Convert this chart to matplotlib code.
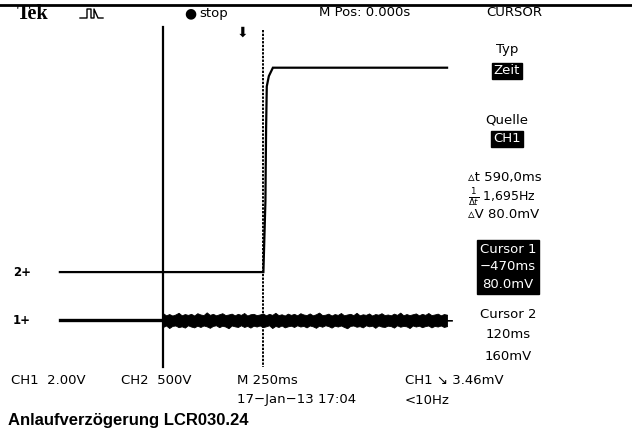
import numpy as np
import matplotlib
matplotlib.use("Agg")
import matplotlib.pyplot as plt

# scope settings
MS_PER_DIV = 250.0      # M 250ms
CH1_V_PER_DIV = 2.0     # CH1 2.00V
CH2_V_PER_DIV = 0.5     # CH2 500mV
CH1_GND_DIV = -3.17     # ground marker "1"
CH2_GND_DIV = -2.03     # ground marker "2"
CURSOR1_MS = -470.0
CURSOR2_MS = 120.0

# CH2: control signal, steps up shortly after cursor 2
ch2_t = [-1078, 122, 134, 138, 142, 154, 178, 1205]
ch2_v = [0.0, 0.0, 0.84, 1.70, 2.19, 2.31, 2.41, 2.41]

# CH1: flat before cursor 1, noise band afterwards (envelope)
ch1_flat_t = [-1078, -475]
ch1_flat_v = [0.0, 0.0]
ch1_noise_t = np.linspace(-470, 1205, 92)
ch1_upper = [0.34, 0.24, 0.30, 0.23, 0.28, 0.36, 0.24, 0.30, 0.26, 0.31, 0.23, 0.34,
             0.28, 0.25, 0.38, 0.26, 0.31, 0.24, 0.29, 0.34, 0.25, 0.28, 0.32, 0.24,
             0.31, 0.26, 0.35, 0.23, 0.29, 0.31, 0.25, 0.28, 0.33, 0.24, 0.31, 0.26,
             0.36, 0.25, 0.29, 0.23, 0.32, 0.26, 0.31, 0.24, 0.34, 0.28,
             0.25, 0.33, 0.24, 0.29, 0.37, 0.25, 0.27, 0.32, 0.23, 0.30, 0.26, 0.35,
             0.24, 0.28, 0.31, 0.25, 0.36, 0.24, 0.29, 0.26, 0.33, 0.23, 0.30, 0.27,
             0.34, 0.25, 0.28, 0.24, 0.32, 0.26, 0.37, 0.24, 0.30, 0.25, 0.29, 0.33,
             0.24, 0.31, 0.26, 0.35, 0.25, 0.28, 0.32, 0.24, 0.30, 0.27]
ch1_lower = [-0.31, -0.24, -0.36, -0.26, -0.24, -0.32, -0.28, -0.34, -0.23, -0.29,
             -0.33, -0.25, -0.31, -0.24, -0.28, -0.35, -0.26, -0.23, -0.32, -0.25,
             -0.29, -0.37, -0.24, -0.28, -0.31, -0.23, -0.31, -0.26, -0.34, -0.25,
             -0.29, -0.24, -0.32, -0.28, -0.23, -0.36, -0.26, -0.31, -0.24, -0.33,
             -0.28, -0.25, -0.31, -0.23, -0.29, -0.26,
             -0.33, -0.24, -0.28, -0.35, -0.25, -0.30, -0.23, -0.27, -0.34, -0.25,
             -0.29, -0.24, -0.31, -0.37, -0.26, -0.24, -0.30, -0.27, -0.33, -0.23,
             -0.28, -0.25, -0.35, -0.24, -0.29, -0.31, -0.25, -0.27, -0.34, -0.23,
             -0.30, -0.26, -0.28, -0.36, -0.24, -0.29, -0.25, -0.32, -0.27, -0.24,
             -0.33, -0.26, -0.29, -0.24, -0.31, -0.27]

W, H = 632, 443
PX_PER_DIV = 42.4
TRIG_X = 242.7          # trigger point (t = 0) in pixels
CENTER_Y = 186.0        # vertical screen centre in pixels

fig = plt.figure(figsize=(W / 100, H / 100), dpi=100)
ax = fig.add_axes([0, 0, 1, 1])
ax.set_xlim(-TRIG_X / PX_PER_DIV * MS_PER_DIV, (W - TRIG_X) / PX_PER_DIV * MS_PER_DIV)
ax.set_ylim((CENTER_Y - H) / PX_PER_DIV, CENTER_Y / PX_PER_DIV)
ax.axis("off")


def ch1_div(v):
    return CH1_GND_DIV + np.asarray(v) / CH1_V_PER_DIV


def ch2_div(v):
    return CH2_GND_DIV + np.asarray(v) / CH2_V_PER_DIV


# traces
ax.plot(ch2_t, ch2_div(ch2_v), color="black", lw=1.6, solid_joinstyle="miter")
ax.plot(ch1_flat_t, ch1_div(ch1_flat_v), color="black", lw=2.4)
ax.fill_between(ch1_noise_t, ch1_div(ch1_lower), ch1_div(ch1_upper),
                color="black", lw=0.6, edgecolor="black")

# cursors
ax.plot([CURSOR1_MS, CURSOR1_MS], [3.75, -4.27], color="black", lw=1.6)
ax.plot([CURSOR2_MS, CURSOR2_MS], [3.68, -4.27], color="black", lw=1.4,
        linestyle=(0, (1.2, 0.7)))

# top border line
fig.add_artist(plt.Line2D([0, 1], [1 - 5 / H, 1 - 5 / H], color="black", lw=2.0))

scope_font = ["DejaVu Sans"]


def ptext(x, y, s, ha="left", size=9.5, **kw):
    kw.setdefault("family", scope_font)
    return fig.text(x / W, 1 - y / H, s, ha=ha, va="center", fontsize=size, **kw)


def boxed(x, y, s, size=9.5):
    ptext(x, y, s, ha="center", size=size, color="white",
          bbox=dict(boxstyle="square,pad=0.15", fc="black", ec="black"))


# header
ptext(17, 14, "Tek", size=14.5, family="Liberation Serif", weight="bold")
icon_x = np.array([80, 85, 87, 87, 91, 91, 94, 94, 98, 103]) / W
icon_y = 1 - np.array([18, 18, 18, 9, 9, 18, 18, 9, 18, 18]) / H
fig.add_artist(plt.Line2D(icon_x, icon_y, color="black", lw=1.0))
ptext(190, 13, "●", ha="center", size=10)
ptext(199, 13, "stop")
ptext(319, 13, "M Pos: 0.000s")
ptext(486, 13, "CURSOR")

# trigger markers
ptext(242, 33, "⬇", ha="center", size=10)
ptext(447, 321, "←", ha="center", size=10, weight="bold")
ptext(13, 272, "2+", size=8.5, weight="bold")
ptext(13, 321, "1+", size=8.5, weight="bold")

# cursor menu
ptext(507, 50, "Typ", ha="center")
boxed(507, 71, "Zeit")
ptext(507, 120, "Quelle", ha="center")
boxed(507, 139, "CH1")
ptext(468, 178, "▵t 590,0ms")
ptext(468, 197, "$\\frac{1}{\\Delta t}$ 1,695Hz", size=9)
ptext(468, 215, "▵V 80.0mV")
fig.text(508 / W, 1 - 267 / H, "Cursor 1\n−470ms\n80.0mV", ha="center", va="center",
         fontsize=9.5, family=scope_font, color="white", linespacing=1.45,
         bbox=dict(boxstyle="square,pad=0.2", fc="black", ec="black"))
ptext(508, 314, "Cursor 2", ha="center")
ptext(508, 335, "120ms", ha="center")
ptext(508, 356, "160mV", ha="center")

# bottom status lines
ptext(11, 380, "CH1  2.00V")
ptext(121, 380, "CH2  500V")
ptext(237, 380, "M 250ms")
ptext(405, 380, "CH1 ↘ 3.46mV")
ptext(237, 400, "17−Jan−13 17:04")
ptext(405, 400, "<10Hz")

fig.text(8 / W, 1 - 421 / H, "Anlaufverzögerung LCR030.24", ha="left", va="center",
         fontsize=12, family="Liberation Sans", weight="bold")

fig.savefig("out.png", dpi=100)
